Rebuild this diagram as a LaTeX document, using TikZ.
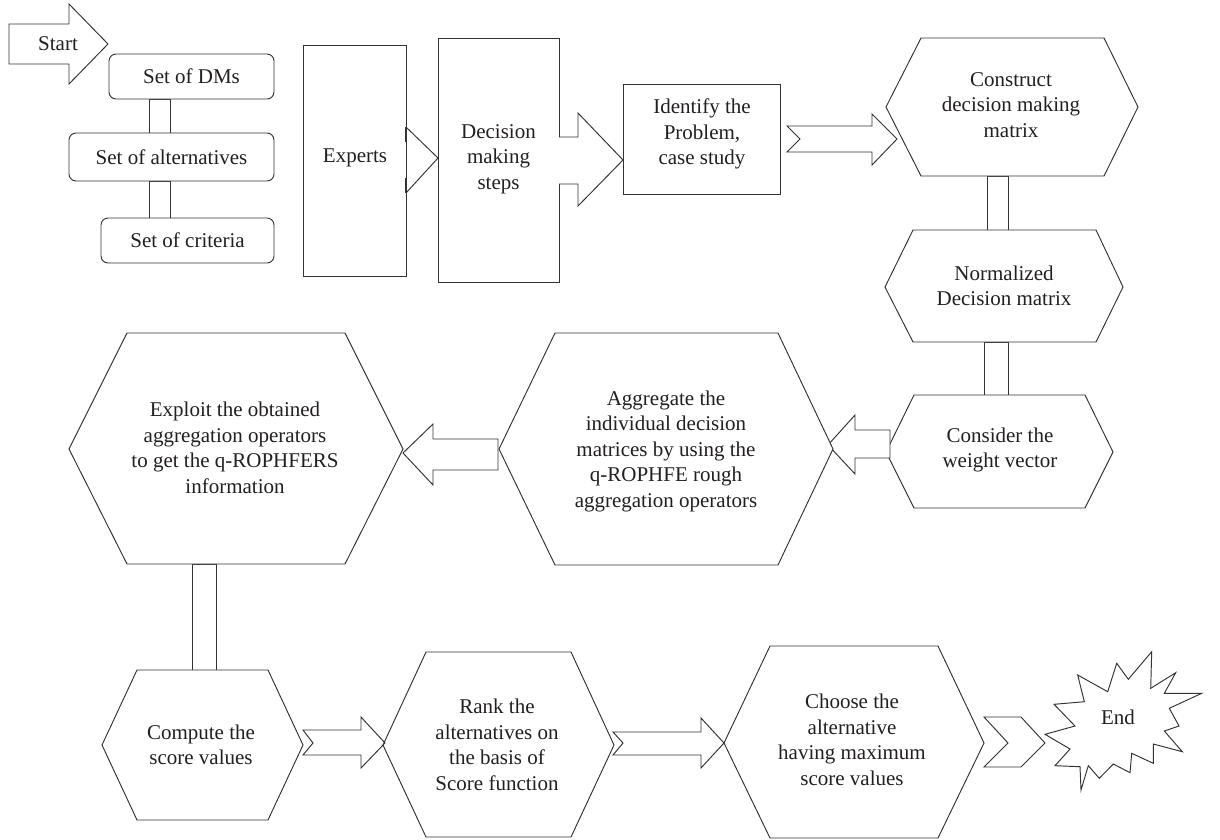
\documentclass[tikz,border=0pt]{standalone}
\usepackage{fontspec}
\setmainfont{Liberation Serif}
\definecolor{linec}{HTML}{333333}
\definecolor{textc}{HTML}{231F20}
\begin{document}
\begin{tikzpicture}[x=1pt,y=-1pt,line width=0.95pt,line join=miter,
  shp/.style={draw=linec,fill=white},
  rbox/.style={shp,rounded corners=7pt},
  lbl/.style={align=center,text=textc,font=\fontsize{21}{25.5}\selectfont,inner sep=0pt}]
\useasboundingbox (0,0) rectangle (1220,839);

% ---------- Start arrow ----------
\draw[shp] (9,24) -- (69,24) -- (69,4) -- (108,44) -- (69,84) -- (69,64) -- (9,64) -- cycle;
\node[lbl] (start) at (58,44) {Start};

% ---------- Sets ----------
\draw[shp] (149,99) rectangle (170,133);
\draw[shp] (149,181) rectangle (170,218);
\draw[rbox] (109,54) rectangle (274,99);
\node[lbl] (dms) at (191.5,76.5) {Set of DMs};
\draw[rbox] (69,133) rectangle (274,181);
\node[lbl] (alt) at (171.5,157) {Set of alternatives};
\draw[rbox] (101,218) rectangle (274,263);
\node[lbl] (crit) at (187.5,240.5) {Set of criteria};

% ---------- Experts / steps ----------
\draw[shp] (303,45) rectangle (406,276);
\node[lbl] (experts) at (355,158) {Experts};
\draw[shp] (438,38) rectangle (559,282);
\node[lbl] (steps) at (498.5,159) {Decision\\making\\steps};
\draw[shp,fill=none] (406,127) -- (438,158) -- (406,193);
\draw[draw=linec,line width=1.8pt] (406,127) -- (406,142) (406,178) -- (406,193);

% arrow steps -> identify
\draw[shp] (559,137) -- (578,137) -- (578,113) -- (623,160) -- (578,206) -- (578,184) -- (559,184);

% ---------- Identify ----------
\draw[shp] (623,84) rectangle (780,194);
\node[lbl] (identify) at (702,134) {Identify the\\Problem,\\case study};

% arrow identify -> construct
\draw[shp] (787,126) -- (872,126) -- (872,114) -- (897,139) -- (872,165) -- (872,152) -- (787,152) -- (800,139) -- cycle;

% ---------- Right column ----------
\draw[shp] (987,176) rectangle (1008,230);
\draw[shp] (984,342) rectangle (1008,395);
\draw[shp] (921,38) -- (1104,38) -- (1138,107) -- (1104,176) -- (921,176) -- (886,107) -- cycle;
\node[lbl] (construct) at (1011,105) {Construct\\decision making\\matrix};
\draw[shp] (913,230) -- (1096,230) -- (1123,287) -- (1096,342) -- (913,342) -- (885,287) -- cycle;
\node[lbl] (normalized) at (1004,286) {Normalized\\Decision matrix};
\draw[shp] (914,395) -- (1085,395) -- (1113,452) -- (1085,508) -- (914,508) -- (886,452) -- cycle;
\node[lbl] (consider) at (1000,450) {Consider the\\weight vector};

% arrow consider -> aggregate
\draw[shp] (890,430) -- (855,430) -- (855,415) -- (828,445) -- (855,474) -- (855,458) -- (890,458) -- cycle;

% ---------- Aggregate ----------
\draw[shp] (555,333) -- (778,333) -- (833,449) -- (778,565) -- (555,565) -- (499,449) -- cycle;
\node[lbl] (aggregate) at (666,451) {Aggregate the\\individual decision\\matrices by using the\\q-ROPHFE rough\\aggregation operators};

% arrow aggregate -> exploit
\draw[shp] (498,439) -- (433,439) -- (433,424) -- (403,453) -- (433,485) -- (433,470) -- (498,470) -- cycle;

% ---------- Exploit ----------
\draw[shp] (192,564) rectangle (216,670);
\draw[shp] (127,333) -- (345,333) -- (403,449) -- (345,564) -- (127,564) -- (69,449) -- cycle;
\node[lbl] (exploit) at (235,448) {Exploit the obtained\\aggregation operators\\to get the q-ROPHFERS\\information};

% ---------- Bottom row ----------
\draw[shp] (137,670) -- (268,670) -- (303,745) -- (268,820) -- (137,820) -- (102,745) -- cycle;
\node[lbl] (compute) at (201,745) {Compute the\\score values};

\draw[shp] (303,730) -- (361,730) -- (361,717) -- (385,743) -- (361,768) -- (361,755) -- (303,755) -- (313,743) -- cycle;

\draw[shp,fill=none] (426,652) -- (571,652) -- (614,745) -- (571,837) -- (426,837) -- (383,745) -- cycle;
\node[lbl] (rank) at (497,745) {Rank the\\alternatives on\\the basis of\\Score function};

\draw[shp] (613,732) -- (701,732) -- (701,718) -- (724,743) -- (701,768) -- (701,755) -- (613,755) -- (623,743) -- cycle;

\draw[shp,fill=none] (770,646) -- (938,646) -- (984,743) -- (938,838) -- (770,838) -- (724,743) -- cycle;
\node[lbl] (choose) at (852,740) {Choose the\\alternative\\having maximum\\score values};

% chevron choose -> end
\draw[shp] (984,717) -- (1021,717) -- (1045,743) -- (1021,767) -- (984,767) -- (1008,743) -- cycle;

% ---------- End starburst ----------
\draw[shp] (1151.7,651.7) -- (1150.7,688.3) -- (1175.7,672.7) -- (1164.3,693.3) -- (1201.7,693.3)
  -- (1169.3,708.3) -- (1179,726) -- (1164.3,731) -- (1182.3,751.7) -- (1153.3,744)
  -- (1153.3,763.3) -- (1131.7,753.3) -- (1130,772.7) -- (1113.3,764) -- (1099.3,778.3)
  -- (1088.3,765.7) -- (1081,790) -- (1080,766.7) -- (1055,765.7) -- (1070,749)
  -- (1045,734.3) -- (1075,726) -- (1054,704.3) -- (1084.3,701.7) -- (1077.7,675)
  -- (1107.7,691.7) -- (1116.7,663.3) -- (1128.3,679.3) -- cycle;
\node[lbl] (end) at (1118,717) {End};
\end{tikzpicture}
\end{document}
